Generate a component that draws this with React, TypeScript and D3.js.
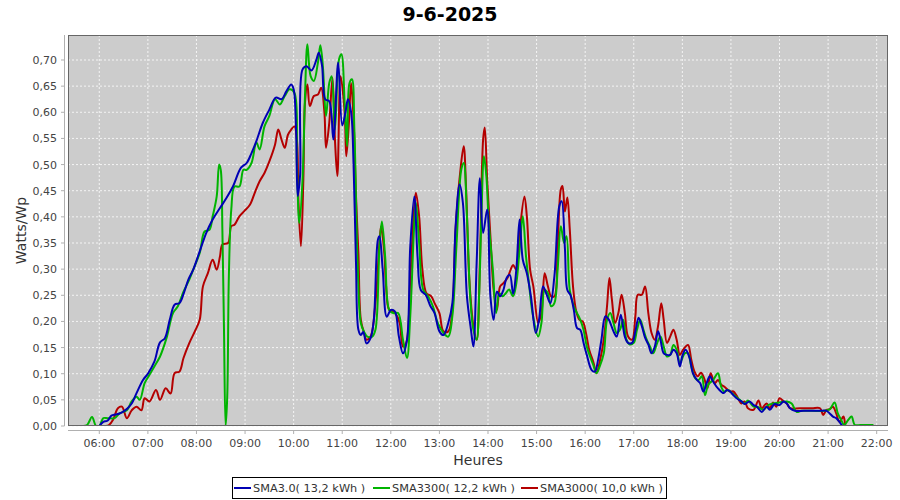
import React from "react";
import * as d3 from "d3";

const title = "9-6-2025";
const yAxisLabel = "Watts/Wp";
const xAxisLabel = "Heures";
const seriesNames = ["SMA3.0( 13,2 kWh )", "SMA3300( 12,2 kWh )", "SMA3000( 10,0 kWh )"];
const seriesColors = ["#0000b4", "#00b400", "#b40000"];
const xTickHours = [6, 7, 8, 9, 10, 11, 12, 13, 14, 15, 16, 17, 18, 19, 20, 21, 22];
const yTickValues = [0, 0.05, 0.1, 0.15, 0.2, 0.25, 0.3, 0.35, 0.4, 0.45, 0.5, 0.55, 0.6, 0.65, 0.7];

const sma30: [string, number][] = [
  ["06:00", 0.0], ["06:05", 0.008], ["06:10", 0.01], ["06:15", 0.02], ["06:20", 0.022], ["06:25", 0.024],
  ["06:30", 0.028], ["06:35", 0.034], ["06:40", 0.043], ["06:46", 0.063], ["06:54", 0.088], ["07:00", 0.1],
  ["07:08", 0.123], ["07:15", 0.16], ["07:21", 0.168], ["07:27", 0.203], ["07:33", 0.232], ["07:39", 0.235],
  ["07:45", 0.257], ["07:50", 0.28], ["07:56", 0.299], ["08:04", 0.334], ["08:12", 0.369], ["08:20", 0.395],
  ["08:29", 0.417], ["08:37", 0.436], ["08:45", 0.458], ["08:55", 0.494], ["09:02", 0.503], ["09:08", 0.522],
  ["09:14", 0.545], ["09:22", 0.58], ["09:30", 0.605], ["09:38", 0.628], ["09:45", 0.625], ["09:51", 0.64],
  ["09:57", 0.653], ["10:00", 0.644], ["10:03", 0.567], ["10:05", 0.44], ["10:08", 0.48], ["10:11", 0.682],
  ["10:16", 0.688], ["10:22", 0.68], ["10:28", 0.7], ["10:31", 0.714], ["10:35", 0.69], ["10:39", 0.625],
  ["10:44", 0.621], ["10:49", 0.548], ["10:55", 0.695], ["11:00", 0.575], ["11:04", 0.6], ["11:07", 0.625],
  ["11:11", 0.6], ["11:14", 0.5], ["11:17", 0.312], ["11:20", 0.184], ["11:23", 0.174], ["11:26", 0.18],
  ["11:30", 0.158], ["11:35", 0.168], ["11:39", 0.203], ["11:44", 0.356], ["11:46", 0.363], ["11:50", 0.299],
  ["11:55", 0.209], ["12:00", 0.222], ["12:05", 0.219], ["12:10", 0.171], ["12:15", 0.139], ["12:20", 0.165],
  ["12:24", 0.343], ["12:29", 0.439], ["12:33", 0.324], ["12:37", 0.26], ["12:43", 0.251], ["12:49", 0.229],
  ["12:54", 0.216], ["13:00", 0.181], ["13:05", 0.174], ["13:11", 0.197], ["13:16", 0.235], ["13:20", 0.382],
  ["13:25", 0.462], ["13:29", 0.427], ["13:34", 0.248], ["13:39", 0.184], ["13:42", 0.152], ["13:46", 0.312],
  ["13:50", 0.474], ["13:54", 0.369], ["13:59", 0.414], ["14:03", 0.248], ["14:07", 0.203], ["14:11", 0.257],
  ["14:15", 0.248], ["14:19", 0.26], ["14:23", 0.283], ["14:27", 0.289], ["14:31", 0.253], ["14:35", 0.299],
  ["14:39", 0.395], ["14:43", 0.318], ["14:48", 0.292], ["14:53", 0.248], ["14:59", 0.178], ["15:03", 0.203],
  ["15:08", 0.267], ["15:12", 0.253], ["15:17", 0.235], ["15:22", 0.286], ["15:28", 0.42], ["15:31", 0.43],
  ["15:35", 0.34], ["15:38", 0.26], ["15:42", 0.25], ["15:46", 0.222], ["15:50", 0.187], ["15:54", 0.184],
  ["15:58", 0.159], ["16:02", 0.136], ["16:08", 0.107], ["16:12", 0.104], ["16:16", 0.127], ["16:20", 0.164],
  ["16:25", 0.21], ["16:29", 0.204], ["16:35", 0.181], ["16:39", 0.171], ["16:44", 0.213], ["16:49", 0.171],
  ["16:53", 0.159], ["16:58", 0.159], ["17:02", 0.181], ["17:06", 0.207], ["17:10", 0.191], ["17:14", 0.169],
  ["17:18", 0.156], ["17:22", 0.139], ["17:26", 0.152], ["17:30", 0.181], ["17:33", 0.165], ["17:37", 0.139],
  ["17:41", 0.136], ["17:45", 0.136], ["17:49", 0.146], ["17:53", 0.139], ["17:57", 0.114], ["18:00", 0.134],
  ["18:04", 0.146], ["18:09", 0.13], ["18:13", 0.101], ["18:18", 0.088], ["18:22", 0.082], ["18:26", 0.066],
  ["18:30", 0.082], ["18:34", 0.095], ["18:38", 0.085], ["18:44", 0.072], ["18:51", 0.063], ["18:55", 0.069],
  ["18:59", 0.066], ["19:03", 0.059], ["19:07", 0.053], ["19:13", 0.047], ["19:17", 0.042], ["19:23", 0.047],
  ["19:28", 0.04], ["19:32", 0.037], ["19:38", 0.027], ["19:44", 0.037], ["19:48", 0.031], ["19:54", 0.042],
  ["20:00", 0.04], ["20:05", 0.047], ["20:09", 0.043], ["20:13", 0.034], ["20:19", 0.029], ["20:30", 0.029],
  ["20:40", 0.029], ["20:50", 0.029], ["20:58", 0.029], ["21:02", 0.024], ["21:06", 0.018], ["21:10", 0.015],
  ["21:14", 0.008], ["21:18", 0.0], ["21:22", 0.0],
];

const sma3300: [string, number][] = [
  ["05:40", 0.0], ["05:45", 0.002], ["05:51", 0.017], ["05:56", 0.0], ["06:00", 0.0], ["06:05", 0.015],
  ["06:10", 0.015], ["06:19", 0.015], ["06:25", 0.024], ["06:34", 0.03], ["06:40", 0.047], ["06:46", 0.056],
  ["06:50", 0.05], ["06:56", 0.082], ["07:02", 0.098], ["07:08", 0.114], ["07:15", 0.133], ["07:23", 0.168],
  ["07:31", 0.216], ["07:37", 0.229], ["07:44", 0.257], ["07:50", 0.276], ["07:56", 0.299], ["08:04", 0.331],
  ["08:10", 0.372], ["08:16", 0.375], ["08:20", 0.401], ["08:25", 0.439], ["08:28", 0.5], ["08:30", 0.49],
  ["08:32", 0.375], ["08:34", 0.184], ["08:36", 0.0], ["08:38", 0.056], ["08:40", 0.286], ["08:43", 0.414],
  ["08:47", 0.458], ["08:53", 0.458], ["08:58", 0.49], ["09:02", 0.49], ["09:08", 0.503], ["09:14", 0.542],
  ["09:18", 0.529], ["09:24", 0.573], ["09:30", 0.593], ["09:37", 0.625], ["09:43", 0.615], ["09:49", 0.631],
  ["09:55", 0.644], ["10:01", 0.637], ["10:04", 0.503], ["10:07", 0.388], ["10:11", 0.471], ["10:14", 0.631],
  ["10:17", 0.73], ["10:21", 0.669], ["10:25", 0.66], ["10:30", 0.695], ["10:33", 0.728], ["10:36", 0.69],
  ["10:40", 0.593], ["10:44", 0.656], ["10:47", 0.669], ["10:51", 0.567], ["10:56", 0.701], ["10:59", 0.711],
  ["11:03", 0.618], ["11:06", 0.535], ["11:09", 0.656], ["11:12", 0.663], ["11:15", 0.567], ["11:19", 0.312],
  ["11:23", 0.197], ["11:27", 0.18], ["11:31", 0.171], ["11:37", 0.171], ["11:41", 0.184], ["11:46", 0.343],
  ["11:49", 0.391], ["11:53", 0.324], ["11:58", 0.222], ["12:03", 0.216], ["12:09", 0.216], ["12:15", 0.165],
  ["12:20", 0.13], ["12:24", 0.21], ["12:29", 0.388], ["12:31", 0.427], ["12:35", 0.35], ["12:40", 0.261],
  ["12:46", 0.248], ["12:52", 0.229], ["12:58", 0.197], ["13:05", 0.178], ["13:11", 0.171], ["13:16", 0.21],
  ["13:21", 0.343], ["13:27", 0.49], ["13:30", 0.503], ["13:34", 0.401], ["13:38", 0.248], ["13:42", 0.184],
  ["13:46", 0.165], ["13:49", 0.248], ["13:52", 0.408], ["13:55", 0.516], ["13:58", 0.478], ["14:01", 0.388],
  ["14:06", 0.299], ["14:10", 0.216], ["14:14", 0.254], ["14:18", 0.248], ["14:22", 0.254], ["14:26", 0.261],
  ["14:31", 0.248], ["14:35", 0.273], ["14:39", 0.337], ["14:43", 0.401], ["14:47", 0.324], ["14:51", 0.267],
  ["14:55", 0.216], ["15:02", 0.171], ["15:06", 0.197], ["15:10", 0.26], ["15:14", 0.254], ["15:18", 0.229],
  ["15:22", 0.235], ["15:26", 0.299], ["15:30", 0.382], ["15:34", 0.35], ["15:37", 0.363], ["15:41", 0.26],
  ["15:46", 0.229], ["15:50", 0.216], ["15:54", 0.203], ["15:58", 0.184], ["16:02", 0.152], ["16:06", 0.133],
  ["16:10", 0.117], ["16:14", 0.101], ["16:18", 0.114], ["16:23", 0.139], ["16:27", 0.203], ["16:31", 0.216],
  ["16:35", 0.197], ["16:39", 0.178], ["16:43", 0.184], ["16:47", 0.203], ["16:51", 0.165], ["16:55", 0.156],
  ["17:00", 0.159], ["17:04", 0.184], ["17:08", 0.203], ["17:12", 0.184], ["17:16", 0.165], ["17:20", 0.152],
  ["17:24", 0.139], ["17:29", 0.159], ["17:33", 0.171], ["17:37", 0.152], ["17:41", 0.133], ["17:45", 0.136],
  ["17:49", 0.155], ["17:53", 0.146], ["17:57", 0.12], ["18:03", 0.139], ["18:07", 0.139], ["18:11", 0.114],
  ["18:16", 0.091], ["18:20", 0.088], ["18:24", 0.095], ["18:28", 0.059], ["18:32", 0.079], ["18:38", 0.088],
  ["18:44", 0.101], ["18:48", 0.075], ["18:52", 0.066], ["18:57", 0.069], ["19:01", 0.063], ["19:05", 0.058],
  ["19:11", 0.05], ["19:17", 0.043], ["19:21", 0.049], ["19:28", 0.037], ["19:34", 0.036], ["19:40", 0.031],
  ["19:46", 0.04], ["19:52", 0.043], ["20:00", 0.045], ["20:09", 0.047], ["20:15", 0.043], ["20:21", 0.027],
  ["20:27", 0.029], ["20:40", 0.029], ["20:55", 0.029], ["21:02", 0.032], ["21:08", 0.045], ["21:12", 0.024],
  ["21:16", 0.012], ["21:20", 0.002], ["21:25", 0.012], ["21:29", 0.018], ["21:33", 0.002], ["21:40", 0.002],
  ["21:50", 0.002], ["21:56", 0.002],
];

const sma3000: [string, number][] = [
  ["06:08", 0.0], ["06:12", 0.002], ["06:17", 0.012], ["06:23", 0.034], ["06:28", 0.037], ["06:34", 0.015],
  ["06:40", 0.03], ["06:46", 0.037], ["06:52", 0.03], ["06:56", 0.053], ["07:02", 0.047], ["07:10", 0.069],
  ["07:15", 0.05], ["07:22", 0.072], ["07:28", 0.062], ["07:33", 0.101], ["07:39", 0.104], ["07:44", 0.13],
  ["07:51", 0.158], ["07:58", 0.181], ["08:04", 0.203], ["08:08", 0.267], ["08:14", 0.292], ["08:20", 0.318],
  ["08:25", 0.299], ["08:29", 0.324], ["08:32", 0.347], ["08:39", 0.35], ["08:43", 0.382], ["08:47", 0.385],
  ["08:53", 0.401], ["08:59", 0.411], ["09:06", 0.423], ["09:12", 0.446], ["09:18", 0.468], ["09:24", 0.484],
  ["09:30", 0.506], ["09:37", 0.538], ["09:41", 0.567], ["09:45", 0.548], ["09:49", 0.532], ["09:53", 0.557],
  ["09:57", 0.567], ["10:01", 0.573], ["10:04", 0.548], ["10:06", 0.427], ["10:09", 0.344], ["10:12", 0.471],
  ["10:14", 0.618], ["10:17", 0.653], ["10:20", 0.612], ["10:25", 0.631], ["10:30", 0.634], ["10:34", 0.647],
  ["10:38", 0.6], ["10:40", 0.532], ["10:44", 0.58], ["10:48", 0.666], ["10:51", 0.548], ["10:54", 0.478],
  ["10:58", 0.669], ["11:03", 0.6], ["11:05", 0.516], ["11:08", 0.573], ["11:11", 0.656], ["11:14", 0.586],
  ["11:17", 0.44], ["11:20", 0.33], ["11:23", 0.203], ["11:27", 0.178], ["11:30", 0.165], ["11:35", 0.171],
  ["11:41", 0.235], ["11:46", 0.35], ["11:48", 0.382], ["11:52", 0.33], ["11:54", 0.271], ["11:58", 0.222],
  ["12:03", 0.219], ["12:07", 0.212], ["12:11", 0.197], ["12:15", 0.152], ["12:19", 0.159], ["12:24", 0.28],
  ["12:29", 0.42], ["12:31", 0.446], ["12:35", 0.401], ["12:39", 0.299], ["12:44", 0.254], ["12:50", 0.248],
  ["12:54", 0.235], ["13:00", 0.216], ["13:05", 0.181], ["13:11", 0.181], ["13:16", 0.222], ["13:20", 0.376],
  ["13:26", 0.49], ["13:30", 0.535], ["13:33", 0.452], ["13:37", 0.28], ["13:42", 0.191], ["13:46", 0.165],
  ["13:50", 0.312], ["13:54", 0.548], ["13:56", 0.571], ["13:59", 0.471], ["14:03", 0.363], ["14:07", 0.261],
  ["14:11", 0.222], ["14:15", 0.267], ["14:19", 0.273], ["14:24", 0.283], ["14:28", 0.299], ["14:31", 0.308],
  ["14:35", 0.299], ["14:39", 0.369], ["14:45", 0.439], ["14:48", 0.401], ["14:52", 0.299], ["14:56", 0.267],
  ["15:02", 0.197], ["15:06", 0.216], ["15:10", 0.292], ["15:14", 0.267], ["15:18", 0.248], ["15:22", 0.248],
  ["15:26", 0.343], ["15:30", 0.453], ["15:32", 0.459], ["15:35", 0.41], ["15:38", 0.437], ["15:41", 0.376],
  ["15:45", 0.267], ["15:49", 0.219], ["15:53", 0.203], ["15:57", 0.2], ["16:01", 0.178], ["16:05", 0.146],
  ["16:10", 0.123], ["16:14", 0.101], ["16:18", 0.123], ["16:23", 0.165], ["16:27", 0.229], ["16:30", 0.283],
  ["16:33", 0.242], ["16:37", 0.197], ["16:41", 0.216], ["16:45", 0.251], ["16:49", 0.216], ["16:53", 0.171],
  ["16:58", 0.165], ["17:02", 0.21], ["17:05", 0.251], ["17:10", 0.251], ["17:14", 0.267], ["17:18", 0.216],
  ["17:22", 0.178], ["17:26", 0.165], ["17:30", 0.191], ["17:34", 0.235], ["17:37", 0.203], ["17:41", 0.159],
  ["17:45", 0.171], ["17:49", 0.184], ["17:53", 0.165], ["17:57", 0.136], ["18:01", 0.146], ["18:07", 0.155],
  ["18:11", 0.127], ["18:15", 0.104], ["18:19", 0.095], ["18:23", 0.102], ["18:27", 0.091], ["18:31", 0.072],
  ["18:35", 0.101], ["18:40", 0.082], ["18:44", 0.088], ["18:48", 0.079], ["18:52", 0.075], ["18:59", 0.066],
  ["19:03", 0.066], ["19:07", 0.058], ["19:13", 0.043], ["19:17", 0.047], ["19:21", 0.034], ["19:28", 0.031],
  ["19:34", 0.049], ["19:38", 0.034], ["19:44", 0.043], ["19:48", 0.034], ["19:52", 0.045], ["19:56", 0.037],
  ["20:00", 0.053], ["20:05", 0.047], ["20:09", 0.043], ["20:13", 0.034], ["20:25", 0.034], ["20:40", 0.034],
  ["20:50", 0.034], ["20:54", 0.021], ["20:58", 0.031], ["21:02", 0.032], ["21:06", 0.037], ["21:10", 0.024],
  ["21:14", 0.008], ["21:19", 0.018], ["21:22", 0.0], ["21:25", 0.0],
];

const allSeries = [sma30, sma3300, sma3000];

const toHours = (s: string) => {
  const [h, m] = s.split(":");
  return +h + +m / 60;
};

const W = 900;
const H = 500;
const plot = { left: 68, right: 888, top: 35, bottom: 426 };
const FONT = "DejaVu Sans, Verdana, sans-serif";

export default function App() {
  const x = d3.scaleLinear().domain([5.356, 22.233]).range([plot.left, plot.right]);
  const y = d3.scaleLinear().domain([0, 0.7478]).range([plot.bottom, plot.top]);
  const line = d3
    .line<[string, number]>()
    .x((d) => x(toHours(d[0])))
    .y((d) => y(d[1]))
    .curve(d3.curveCatmullRom.alpha(0.5));
  const fmtY = (v: number) => d3.format(".2f")(v).replace(".", ",");
  const fmtX = (h: number) => (h < 10 ? "0" + h : "" + h) + ":00";

  const legendItems = [
    { x: 234, textX: 253 },
    { x: 373, textX: 392 },
    { x: 521, textX: 540 },
  ];

  return (
    <svg
      width={W}
      height={H}
      style={{ position: "fixed", left: 0, top: 0, background: "#fff" }}
      fontFamily={FONT}
    >
      <rect x={0} y={0} width={W} height={H} fill="#ffffff" />
      <text x={450} y={21} textAnchor="middle" fontSize={19} fontWeight="bold" fill="#000">
        {title}
      </text>

      <rect
        x={plot.left}
        y={plot.top}
        width={plot.right - plot.left}
        height={plot.bottom - plot.top}
        fill="#cccccc"
      />
      {yTickValues.map((v) => (
        <line
          key={"gy" + v}
          x1={plot.left}
          x2={plot.right}
          y1={y(v)}
          y2={y(v)}
          stroke="#f4f4f4"
          strokeWidth={1}
          strokeDasharray="2,2"
        />
      ))}
      {xTickHours.map((h) => (
        <line
          key={"gx" + h}
          x1={x(h)}
          x2={x(h)}
          y1={plot.top}
          y2={plot.bottom}
          stroke="#f4f4f4"
          strokeWidth={1}
          strokeDasharray="2,2"
        />
      ))}

      <defs>
        <clipPath id="plotClip">
          <rect
            x={plot.left}
            y={plot.top}
            width={plot.right - plot.left}
            height={plot.bottom - plot.top}
          />
        </clipPath>
      </defs>
      <g clipPath="url(#plotClip)">
        {[2, 1, 0].map((i) => (
          <path
            key={"s" + i}
            d={line(allSeries[i]) || ""}
            fill="none"
            stroke={seriesColors[i]}
            strokeWidth={2}
            strokeLinejoin="round"
          />
        ))}
      </g>

      <rect
        x={plot.left + 0.5}
        y={plot.top + 0.5}
        width={plot.right - plot.left - 1}
        height={plot.bottom - plot.top - 1}
        fill="none"
        stroke="#666666"
        strokeWidth={1}
      />

      {/* Y axis */}
      <line x1={64.5} x2={64.5} y1={plot.top} y2={plot.bottom} stroke="#b0b0b0" />
      {yTickValues.map((v) => (
        <g key={"ty" + v}>
          <line x1={61} x2={64.5} y1={y(v)} y2={y(v)} stroke="#b0b0b0" />
          <text x={57} y={y(v) + 4} textAnchor="end" fontSize={11} fill="#444">
            {fmtY(v)}
          </text>
        </g>
      ))}
      <text
        transform={`translate(26,${(plot.top + plot.bottom) / 2}) rotate(-90)`}
        textAnchor="middle"
        fontSize={14}
        fill="#333"
      >
        {yAxisLabel}
      </text>

      {/* X axis */}
      <line x1={plot.left} x2={plot.right} y1={430.5} y2={430.5} stroke="#b0b0b0" />
      {xTickHours.map((h) => (
        <g key={"tx" + h}>
          <line x1={x(h)} x2={x(h)} y1={430.5} y2={434} stroke="#b0b0b0" />
          <text x={x(h)} y={446.5} textAnchor="middle" fontSize={11} fill="#444">
            {fmtX(h)}
          </text>
        </g>
      ))}
      <text x={(plot.left + plot.right) / 2} y={465} textAnchor="middle" fontSize={14} fill="#333">
        {xAxisLabel}
      </text>

      {/* Legend */}
      <rect x={232.5} y={477.5} width={434} height={21} fill="#fff" stroke="#000" strokeWidth={1} />
      {legendItems.map((it, i) => (
        <g key={"lg" + i}>
          <line x1={it.x} x2={it.x + 17} y1={488} y2={488} stroke={seriesColors[i]} strokeWidth={2} />
          <text x={it.textX} y={492} fontSize={11.3} fill="#333">
            {seriesNames[i]}
          </text>
        </g>
      ))}
    </svg>
  );
}
